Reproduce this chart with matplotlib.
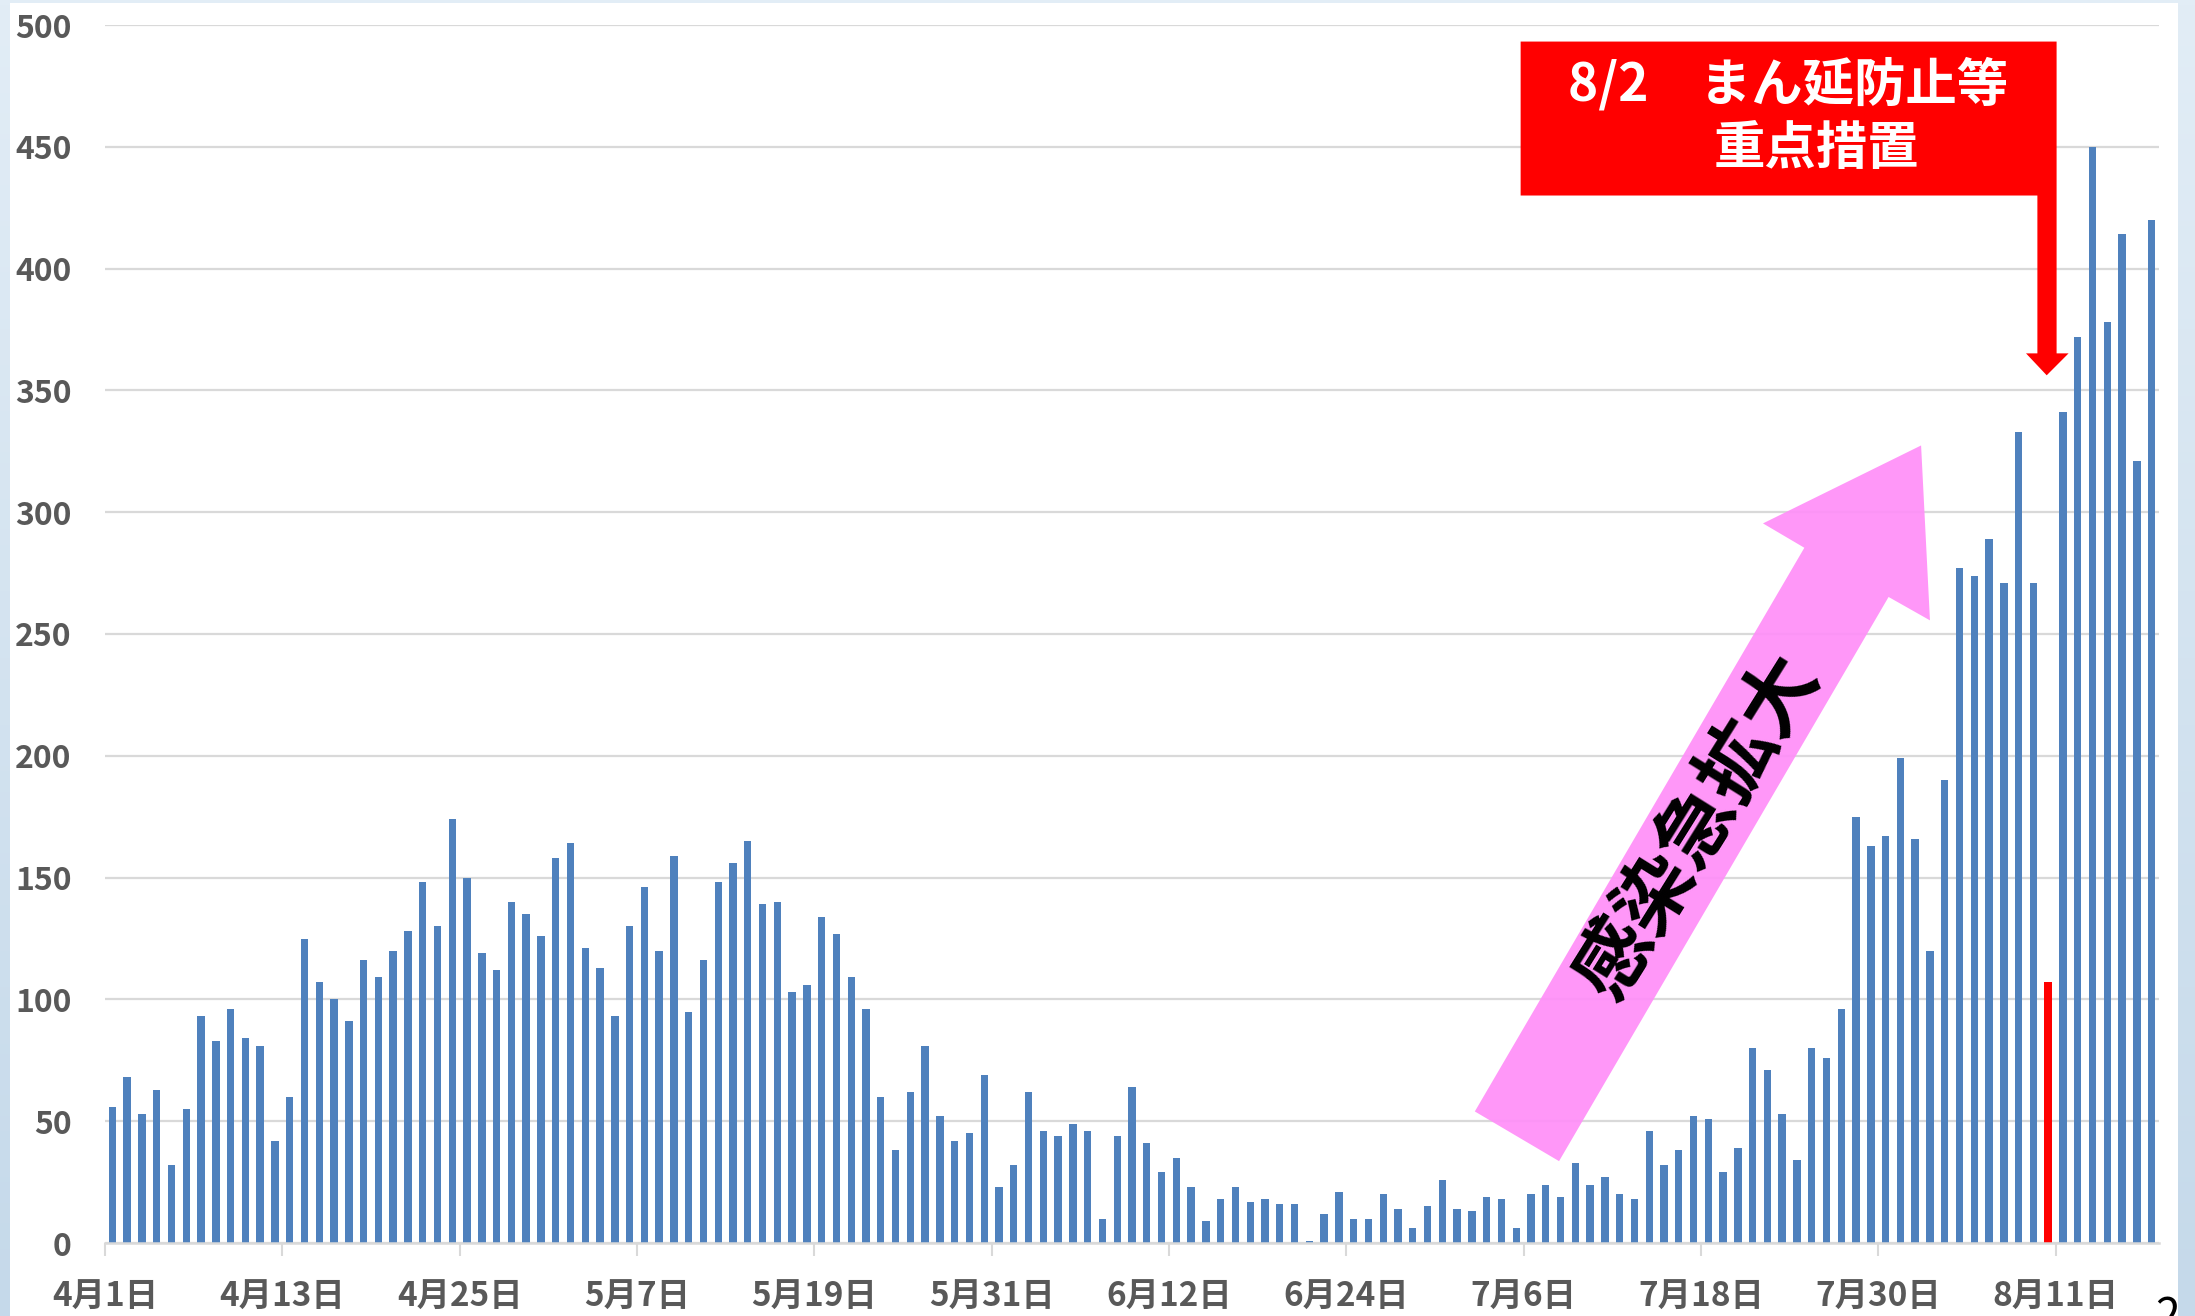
import numpy as np
import pandas as pd
import matplotlib
matplotlib.use('Agg')
import matplotlib.pyplot as plt
from matplotlib.patches import Polygon, Rectangle
from matplotlib.colors import LinearSegmentedColormap

plt.rcParams['font.family'] = ['Noto Sans CJK JP', 'DejaVu Sans']

# daily new cases, 4/1 .. 8/17
cases = [56, 68, 53, 63, 32, 55, 93, 83, 96, 84, 81, 42, 60, 125, 107, 100, 91, 116, 109, 120, 128, 148, 130, 174,
         150, 119, 112, 140, 135, 126, 158, 164, 121, 113, 93, 130, 146, 120, 159, 95, 116, 148, 156, 165, 139, 140, 103, 106,
         134, 127, 109, 96, 60, 38, 62, 81, 52, 42, 45, 69, 23, 32, 62, 46, 44, 49, 46, 10, 44, 64, 41, 29,
         35, 23, 9, 18, 23, 17, 18, 16, 16, 1, 12, 21, 10, 10, 20, 14, 6, 15, 26, 14, 13, 19, 18, 6,
         20, 24, 19, 33, 24, 27, 20, 18, 46, 32, 38, 52, 51, 29, 39, 80, 71, 53, 34, 80, 76, 96, 175, 163, 167, 199,
         166, 120, 190, 277, 274, 289, 271, 333, 271, 107, 341, 372, 450, 378, 414, 321, 420]
dates = pd.date_range('2021-04-01', periods=len(cases))
day_labels = [f'{d.month}月{d.day}日' for d in dates]
tick_labels = ['4月1日', '4月13日', '4月25日', '5月7日', '5月19日', '5月31日',
               '6月12日', '6月24日', '7月6日', '7月18日', '7月30日', '8月11日']
highlight_day = '8月10日'

y_ticks = list(range(0, 501, 50))

BLUE = '#4F81BD'
GRID = '#D9D9D9'
LABEL = '#595959'

fig = plt.figure(figsize=(21.95, 13.16), dpi=100)

# slide background (light blue gradient) with white panel
bg = fig.add_axes([0, 0, 1, 1], zorder=-5)
grad = np.linspace(0, 1, 256).reshape(-1, 1)
cmap = LinearSegmentedColormap.from_list('bg', ['#e2edf6', '#c5d9ea'])
bg.imshow(grad, aspect='auto', cmap=cmap, extent=[0, 1, 0, 1])
bg.add_patch(Rectangle((10 / 2195, 0), (2178 - 10) / 2195, 1 - 3 / 1316, color='white', lw=0))
bg.set_xlim(0, 1)
bg.set_ylim(0, 1)
bg.axis('off')

ax = fig.add_axes([105 / 2195, 1 - 1243 / 1316, (2159 - 105) / 2195, (1243 - 25) / 1316])
ax.patch.set_alpha(0)

x = np.arange(len(cases))
colors = ['#FF0000' if d == highlight_day else BLUE for d in day_labels]
ax.bar(x, cases, width=0.5, color=colors, zorder=2)

ax.set_xlim(-0.5, len(cases) - 0.5)
ax.set_ylim(0, 500)
ax.set_yticks(y_ticks)
ax.set_yticklabels([str(v) for v in y_ticks], fontsize=23, fontweight='bold', color=LABEL)
ax.grid(axis='y', color=GRID, lw=1.6, zorder=0)
ax.set_axisbelow(True)

tick_pos = [day_labels.index(t) - 0.5 for t in tick_labels]
ax.set_xticks(tick_pos)
ax.set_xticklabels(tick_labels, fontsize=24, fontweight='bold', color=LABEL)
ax.tick_params(axis='x', length=9, width=1.5, color=GRID, pad=18)
ax.tick_params(axis='y', length=0, pad=24)
for s in ['top', 'right', 'left']:
    ax.spines[s].set_visible(False)
ax.spines['bottom'].set_color(GRID)
ax.spines['bottom'].set_linewidth(1.8)

# pink arrow
arrow = Polygon([(92.2, 54.0), (97.9, 33.6), (120.2, 265.2), (123.0, 255.6),
                 (122.4, 327.4), (111.7, 295.4), (114.5, 285.4)],
                closed=True, facecolor='#FF8EF8', edgecolor='none', alpha=0.92, zorder=3)
ax.add_patch(arrow)
ax.text(107.3, 170.7, '感染急拡大', rotation=58, rotation_mode='anchor', ha='center', va='center',
        fontsize=56, fontweight='bold', color='black', zorder=4)

# red callout
callout = Polygon([(95.3, 493.2), (131.57, 493.2), (131.57, 365.2), (132.38, 365.2), (130.9, 356.2),
                   (129.5, 365.2), (130.27, 365.2), (130.27, 430.0), (95.3, 430.0)],
                  closed=True, facecolor='#FF0000', edgecolor='none', joinstyle='round', zorder=4)
ax.add_patch(callout)
ax.text(113.4, 475.6, '8/2\u3000まん延防止等', ha='center', va='center', fontsize=37,
        fontweight='bold', color='white', zorder=5)
ax.text(115.3, 449.3, '重点措置', ha='center', va='center', fontsize=37,
        fontweight='bold', color='white', zorder=5)

# page number, cut off at the bottom edge as on the slide
fig.text(2168 / 2195, 1 - 1330 / 1316, '2', ha='center', va='baseline', fontsize=32, color='black')

fig.savefig('out.png', dpi=100)
